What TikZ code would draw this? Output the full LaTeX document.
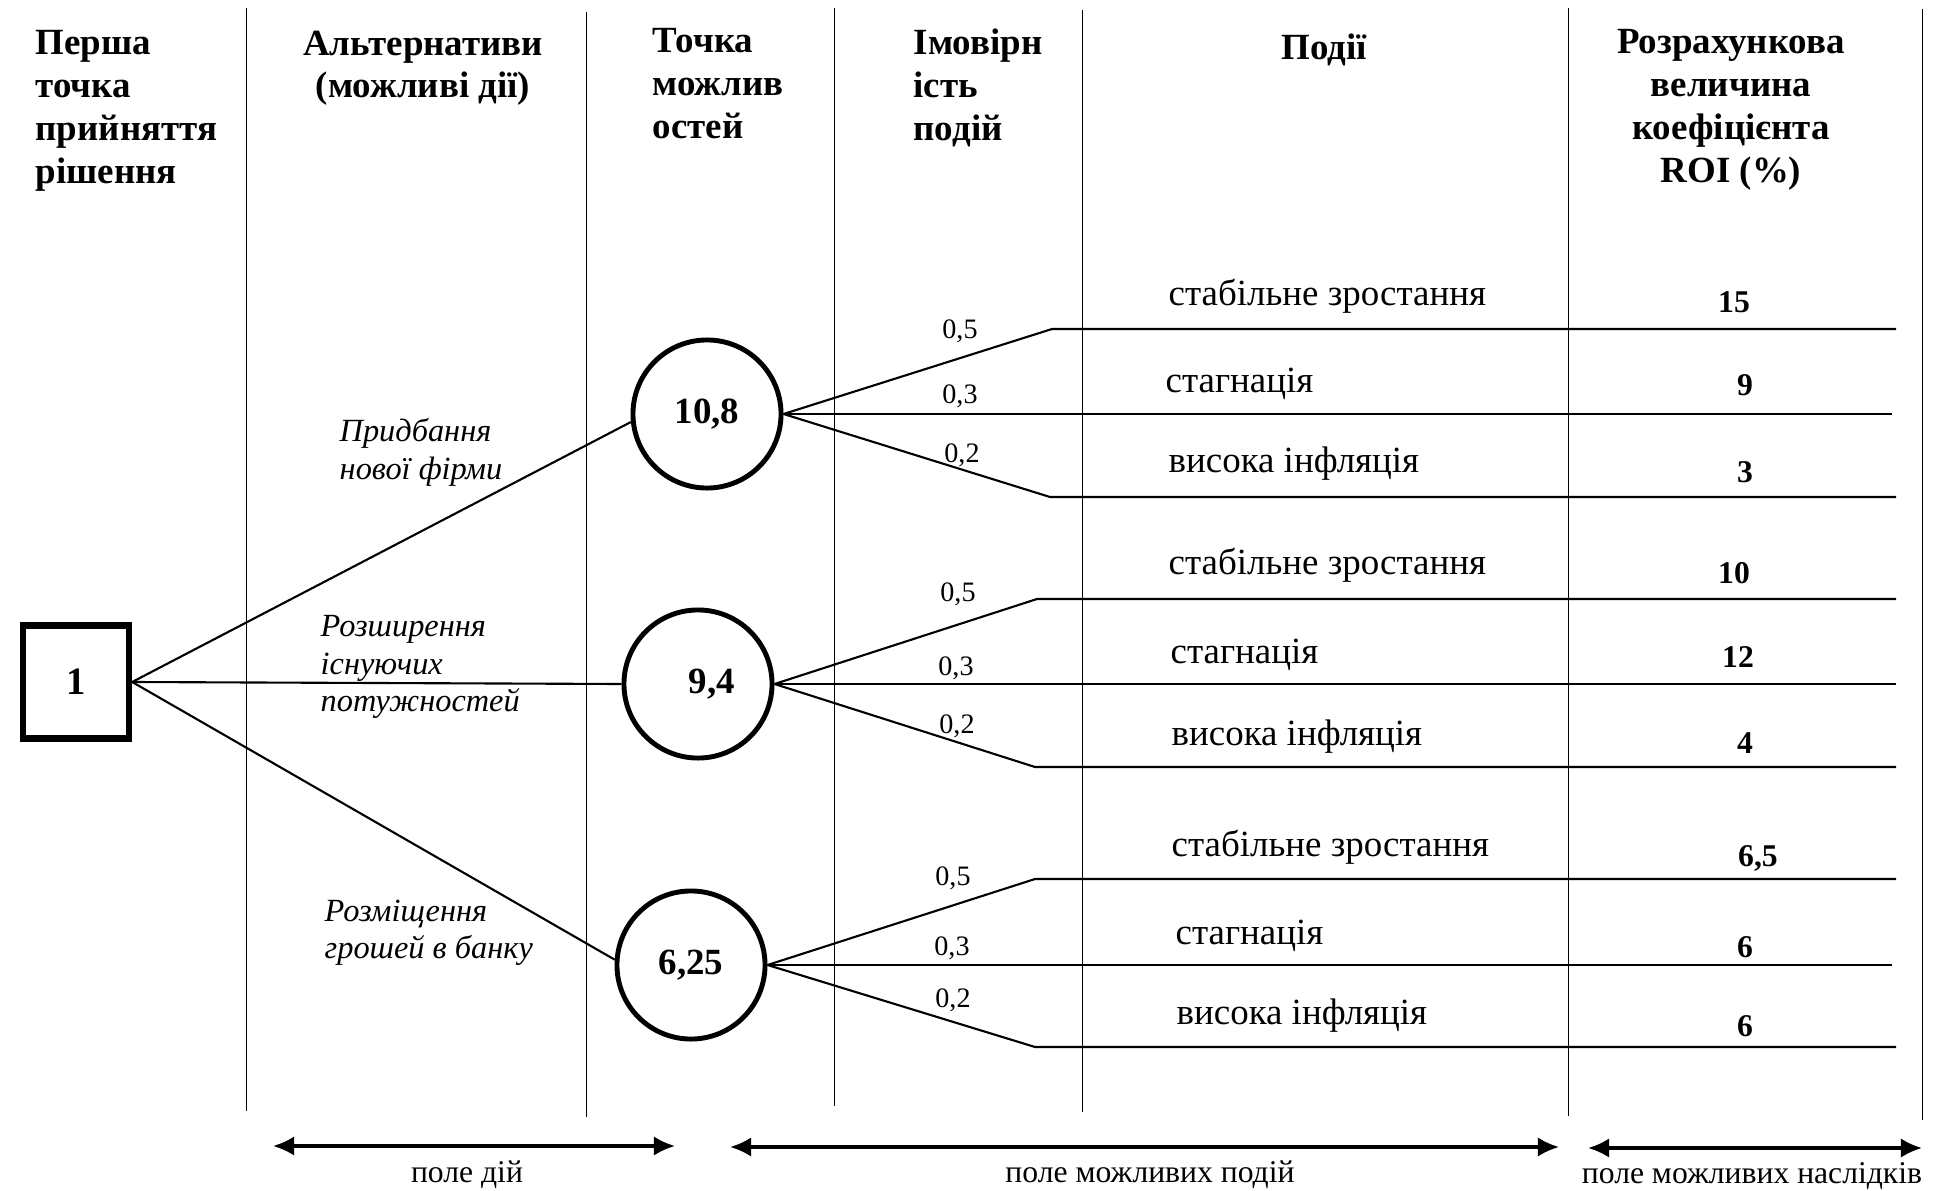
\documentclass[tikz,border=0pt]{standalone}
\usepackage{fontspec}
\setmainfont{Liberation Serif}
\usetikzlibrary{arrows.meta}

\begin{document}
\begin{tikzpicture}[x=0.01cm, y=-0.01cm,
    col/.style={line width=0.25pt},
    head/.style={inner sep=0, font=\fontsize{10.5}{12.2}\selectfont\bfseries},
    decision/.style={rectangle, draw, line width=1.8pt, minimum width=1.06cm, minimum height=1.13cm, inner sep=0, font=\fontsize{11}{13}\selectfont\bfseries},
    chance/.style={circle, draw, line width=1.4pt, minimum size=1.48cm, inner sep=0},
    num/.style={inner sep=0, font=\fontsize{10.5}{12}\selectfont\bfseries},
    alt/.style={inner sep=0, align=left, anchor=north west, font=\fontsize{9.2}{10.6}\selectfont\itshape},
    branch/.style={line width=0.6pt},
    prob/.style={inner sep=0, anchor=base, font=\fontsize{8}{10}\selectfont},
    event/.style={inner sep=0, anchor=base west, font=\fontsize{10.5}{12}\selectfont},
    roi/.style={inner sep=0, anchor=base, font=\fontsize{9}{11}\selectfont\bfseries},
    span/.style={<->, >={Latex[length=6pt,width=5.5pt]}, line width=0.9pt},
    field/.style={inner sep=0, anchor=base, font=\fontsize{9}{11}\selectfont}]

    \useasboundingbox (0,0) rectangle (1948,1191);

    % column rules
    \draw[col] (246,8) -- (246,1111);
    \draw[col] (586,12) -- (586,1117);
    \draw[col] (834,8) -- (834,1106);
    \draw[col] (1082,10) -- (1082,1112);
    \draw[col] (1568,8) -- (1568,1116);
    \draw[col] (1922,9) -- (1922,1120);

    % column heads
    \node (h1) [head, align=left, anchor=north west] at (35,30) {Перша\\точка\\прийняття\\рішення};
    \node (h2) [head, align=center, anchor=north] at (423,30) {Альтернативи\\(можливі дії)};
    \node (h3) [head, align=left, anchor=north west] at (652,28) {Точка\\можлив\\остей};
    \node (h4) [head, align=left, anchor=north west] at (913,28) {Імовірн\\ість\\подій};
    \node (h5) [head, anchor=north] at (1324,33) {Події};
    \node (h6) [head, align=center, anchor=north] at (1731,29) {Розрахункова\\величина\\коефіцієнта\\ROI (\%)};

    % decision point and chance points
    \node (d1) [decision] at (76,682) {1};
    \node (c1) [chance, label={[num]center:10,8}] at (707,414) {};
    \node (c2) [chance, label={[num, xshift=0.14cm]center:9,4}] at (698,684) {};
    \node (c3) [chance, label={[num]center:6,25}] at (691,965) {};

    \draw[branch] (d1.east) -- (c1.186);
    \draw[branch] (d1.east) -- (c2.west);
    \draw[branch] (d1.east) -- (c3.176);

    \node (a1) [alt] at (339,418) {Придбання\\нової фірми};
    \node (a2) [alt] at (320,615) {Розширення\\існуючих\\потужностей};
    \node (a3) [alt] at (324,899) {Розміщення\\грошей в банку};

    % events after 10,8
    \coordinate (k1t) at (1052,329);
    \coordinate (k1b) at (1050,497);
    \coordinate (e1t) at (1896,329);
    \coordinate (e1m) at (1892,414);
    \coordinate (e1b) at (1896,497);
    \draw[branch] (c1.east) -- (k1t) -- (e1t);
    \draw[branch] (c1.east) -- (e1m);
    \draw[branch] (c1.east) -- (k1b) -- (e1b);
    \node (p11) [prob] at (960,338) {0,5};
    \node (p12) [prob] at (960,403) {0,3};
    \node (p13) [prob] at (962,462) {0,2};
    \node (ev11) [event] at (1168,305) {стабільне зростання};
    \node (ev12) [event] at (1165,392) {стагнація};
    \node (ev13) [event] at (1168,472) {висока інфляція};
    \node (r11) [roi] at (1734,313) {15};
    \node (r12) [roi] at (1745,395) {9};
    \node (r13) [roi] at (1745,482) {3};

    % events after 9,4
    \coordinate (k2t) at (1037,599);
    \coordinate (k2b) at (1035,767);
    \coordinate (e2t) at (1896,599);
    \coordinate (e2m) at (1896,684);
    \coordinate (e2b) at (1896,767);
    \draw[branch] (c2.east) -- (k2t) -- (e2t);
    \draw[branch] (c2.east) -- (e2m);
    \draw[branch] (c2.east) -- (k2b) -- (e2b);
    \node (p21) [prob] at (958,601) {0,5};
    \node (p22) [prob] at (956,675) {0,3};
    \node (p23) [prob] at (957,733) {0,2};
    \node (ev21) [event] at (1168,574) {стабільне зростання};
    \node (ev22) [event] at (1170,663) {стагнація};
    \node (ev23) [event] at (1171,745) {висока інфляція};
    \node (r21) [roi] at (1734,583) {10};
    \node (r22) [roi] at (1738,667) {12};
    \node (r23) [roi] at (1745,753) {4};

    % events after 6,25
    \coordinate (k3t) at (1035,879);
    \coordinate (k3b) at (1035,1047);
    \coordinate (e3t) at (1896,879);
    \coordinate (e3m) at (1892,965);
    \coordinate (e3b) at (1896,1047);
    \draw[branch] (c3.east) -- (k3t) -- (e3t);
    \draw[branch] (c3.east) -- (e3m);
    \draw[branch] (c3.east) -- (k3b) -- (e3b);
    \node (p31) [prob] at (953,885) {0,5};
    \node (p32) [prob] at (952,955) {0,3};
    \node (p33) [prob] at (953,1007) {0,2};
    \node (ev31) [event] at (1171,856) {стабільне зростання};
    \node (ev32) [event] at (1175,944) {стагнація};
    \node (ev33) [event] at (1176,1024) {висока інфляція};
    \node (r31) [roi] at (1758,866) {6,5};
    \node (r32) [roi] at (1745,957) {6};
    \node (r33) [roi] at (1745,1036) {6};

    % fields
    \coordinate (f1l) at (273,1146);
    \coordinate (f1r) at (675,1146);
    \coordinate (f2l) at (730,1147);
    \coordinate (f2r) at (1559,1147);
    \coordinate (f3l) at (1588,1148);
    \coordinate (f3r) at (1922,1148);
    \draw[span] (f1l) -- (f1r);
    \draw[span] (f2l) -- (f2r);
    \draw[span] (f3l) -- (f3r);
    \node (t1) [field] at (467,1182) {поле дій};
    \node (t2) [field] at (1150,1182) {поле можливих подій};
    \node (t3) [field] at (1752,1183) {поле можливих наслідків};
\end{tikzpicture}
\end{document}
